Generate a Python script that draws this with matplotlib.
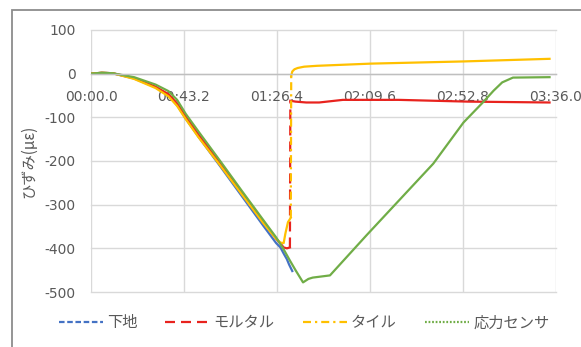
import numpy as np
import matplotlib.pyplot as plt
from matplotlib.lines import Line2D
from matplotlib.patches import Rectangle

plt.rcParams['font.family'] = ['DejaVu Sans', 'Noto Sans CJK JP']
plt.rcParams['axes.unicode_minus'] = False

# 経過時間 [s] とひずみ [με]
base_t = [0, 5, 10, 20, 30, 36, 40, 44, 50, 60, 70, 80, 86, 88, 89.5, 91, 92, 93.5]
base_v = [0, 2, 1, -11, -31, -50, -72, -103, -145, -212, -280, -348, -388, -398,
          -412, -425, -437, -452]

mortar_t = [0, 5, 10, 20, 30, 36, 40, 44, 50, 60, 70, 80, 86, 88.5, 89.5, 91, 92.4,
            92.6, 95, 100, 106, 117, 143, 175, 213]
mortar_v = [0, 2, 1, -10, -30, -47, -68, -98, -140, -205, -272, -340, -378, -392,
            -398, -400, -398, -62, -64, -66, -66, -60, -60, -64, -66]

tile_t = [0, 5, 10, 20, 30, 36, 40, 44, 50, 60, 70, 80, 86, 88, 89.5, 90.3, 91.5,
          92.8, 93.0, 93.5, 94.5, 96, 99, 105, 130, 173, 213]
tile_v = [0, 2, 1, -12, -33, -52, -74, -104, -146, -210, -276, -342, -378, -387,
          -388, -366, -340, -330, -5, 5, 10, 13, 16, 18, 23, 28, 34]

sensor_t = [0, 5, 10, 20, 30, 36, 40, 44, 50, 60, 70, 80, 86, 89, 92.4, 95, 98.5,
            101, 103, 111, 128, 159, 173, 182, 187, 191, 196, 213]
sensor_v = [0, 2, 1, -8, -25, -40, -60, -92, -133, -200, -268, -335, -375, -398,
            -428, -450, -478, -470, -467, -462, -370, -206, -112, -66, -39, -20, -9, -8]

x_ticks = [0, 43.2, 86.4, 129.6, 172.8, 216.0]
x_labels = ['00:00.0', '00:43.2', '01:26.4', '02:09.6', '02:52.8', '03:36.0']
y_ticks = [100, 0, -100, -200, -300, -400, -500]

names = ['下地', 'モルタル', 'タイル', '応力センサ']
colors = ['#4472C4', '#E8231E', '#FFC000', '#70AD47']
styles = [(0, (2.5, 1.2)), (0, (4.5, 2.7)), (0, (3.6, 1.8, 1, 1.8)), (0, (0.8, 0.8))]

fig = plt.figure(figsize=(5.81, 3.47), dpi=100)
fig.patches.append(Rectangle((12 / 581, -0.1), 1.1, 1.1 - 10 / 347,
                             transform=fig.transFigure, fill=False,
                             edgecolor='#8c8c8c', lw=1.3))
ax = fig.add_axes([91 / 581, 1 - 292 / 347, 465 / 581, 262 / 347])

handles = []


def draw_series(t, v, color, ls, label):
    # 急変部（段差）だけ線種どおりに描き、それ以外は実線
    t = np.asarray(t)
    v = np.asarray(v)
    rate = np.abs(np.diff(v)) / np.diff(t)
    jumps = np.where(rate > 100)[0]
    start = 0
    for j in jumps:
        ax.plot(t[start:j + 1], v[start:j + 1], color=color, lw=1.6)
        ax.plot(t[j:j + 2], v[j:j + 2], color=color, lw=1.6, ls=ls)
        start = j + 1
    ax.plot(t[start:], v[start:], color=color, lw=1.6)
    handles.append(Line2D([], [], color=color, lw=1.6, ls=ls, label=label))


series = [(base_t, base_v), (mortar_t, mortar_v), (tile_t, tile_v), (sensor_t, sensor_v)]
for (t, v), c, ls, n in zip(series, colors, styles, names):
    draw_series(t, v, c, ls, n)

ax.set_xlim(0, 216)
ax.set_ylim(-500, 100)
ax.set_xticks(x_ticks)
ax.set_xticklabels(x_labels)
ax.set_yticks(y_ticks)
ax.grid(True, color='#d9d9d9', lw=1.0)
for g in ax.get_xgridlines() + ax.get_ygridlines():
    g.set_clip_on(False)
ax.set_axisbelow(True)

for s in ['top', 'right', 'left']:
    ax.spines[s].set_visible(False)
ax.spines['bottom'].set_position(('data', 0))
ax.spines['bottom'].set_color('#bfbfbf')
ax.spines['bottom'].set_linewidth(1.0)
ax.tick_params(axis='x', length=0, pad=12, labelsize=10, colors='#595959')
ax.tick_params(axis='y', length=0, pad=11, labelsize=10, colors='#595959')

ax.set_ylabel('ひずみ(με)', fontsize=11, color='#595959',
              family=['Noto Sans CJK JP', 'DejaVu Sans'])
ax.yaxis.set_label_coords(-0.115, 0.5)

fig.legend(handles=handles, loc='center', bbox_to_anchor=(304 / 581, 1 - 323 / 347),
           ncol=4, frameon=False, handlelength=2.9, handletextpad=0.25,
           columnspacing=1.85, prop={'family': ['Noto Sans CJK JP'], 'size': 11},
           labelcolor='#595959')

fig.savefig('out.png', dpi=100)
